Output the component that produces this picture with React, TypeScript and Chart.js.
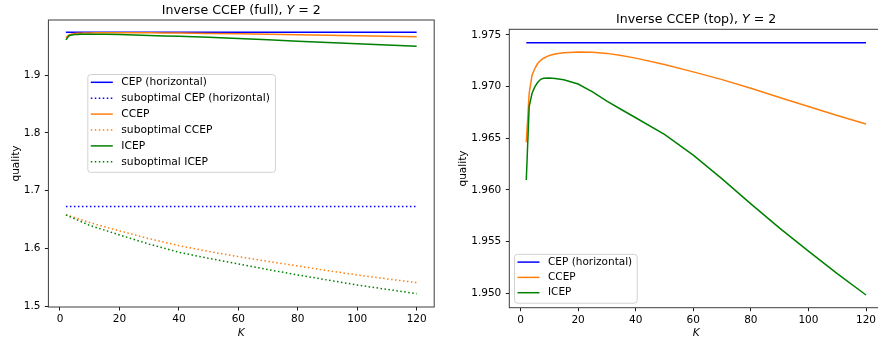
import React, { useEffect, useRef } from "react";
import { Chart, registerables } from "chart.js";

Chart.register(...registerables);

// ---------------- data ----------------
const K_MAIN = [2, 3, 4, 5, 6, 7, 8, 10, 12, 15, 20, 25, 30, 35, 40, 50, 60, 70, 80, 90, 100, 110, 120];
const CCEP_VALUES = [
  1.96462, 1.96936, 1.9711, 1.97178, 1.97226, 1.97255, 1.97275, 1.97302, 1.97316, 1.97327, 1.97335, 1.97333,
  1.97322, 1.97302, 1.97276, 1.97215, 1.97143, 1.97068, 1.96985, 1.96895, 1.96808, 1.9672, 1.96639,
];
const ICEP_VALUES = [
  1.96097, 1.96806, 1.96936, 1.97, 1.97042, 1.97071, 1.97081, 1.97083, 1.97078, 1.97066, 1.97026, 1.9695,
  1.9686, 1.96779, 1.96699, 1.96538, 1.96338, 1.96108, 1.95866, 1.95631, 1.95409, 1.9519, 1.94984,
];
const K_SUB = [2, 5, 10, 15, 20, 30, 40, 50, 60, 70, 80, 90, 100, 110, 120];
const SUB_CCEP_VALUES = [
  1.6578, 1.653, 1.6445, 1.6372, 1.6302, 1.6165, 1.6046, 1.5945, 1.5855, 1.5772, 1.5694, 1.5613, 1.5538, 1.547, 1.5405,
];
const SUB_ICEP_VALUES = [
  1.6578, 1.6508, 1.6395, 1.6314, 1.6231, 1.6072, 1.5931, 1.5825, 1.5728, 1.563, 1.5538, 1.545, 1.5364, 1.5288, 1.5214,
];
const K_RANGE = [2, 120];
const CEP_VALUE = 1.97426;
const SUB_CEP_VALUE = 1.6722;

const X_TICKS = [0, 20, 40, 60, 80, 100, 120];
const Y_TICKS_FULL = [1.5, 1.6, 1.7, 1.8, 1.9];
const Y_TICKS_TOP = [1.95, 1.955, 1.96, 1.965, 1.97, 1.975];

const LABEL_CEP = "CEP (horizontal)";
const LABEL_SUB_CEP = "suboptimal CEP (horizontal)";
const LABEL_CCEP = "CCEP";
const LABEL_SUB_CCEP = "suboptimal CCEP";
const LABEL_ICEP = "ICEP";
const LABEL_SUB_ICEP = "suboptimal ICEP";

const TITLE_FULL = ["Inverse CCEP (full), ", "Y", " = 2"];
const TITLE_TOP = ["Inverse CCEP (top), ", "Y", " = 2"];
const X_LABEL = "K";
const Y_LABEL = "quality";

// ---------------- styling ----------------
const FONT = '"DejaVu Sans", sans-serif';
const FS = 10.5;
const TITLE_FS = 12.6;
const BLUE = "#0000ff";
const ORANGE = "#ff7f0e";
const GREEN = "#008000";

const pts = (ks: number[], vs: number[]) => ks.map((k, i) => ({ x: k, y: vs[i] }));
const flat = (v: number) => K_RANGE.map((k) => ({ x: k, y: v }));

const framePlugin = {
  id: "frame",
  afterDatasetsDraw(chart: any) {
    const { ctx, chartArea: a } = chart;
    ctx.save();
    ctx.strokeStyle = "#3c3c3c";
    ctx.lineWidth = 1;
    ctx.strokeRect(a.left, a.top, a.right - a.left, a.bottom - a.top);
    ctx.restore();
  },
};

const titlePlugin = {
  id: "mixedTitle",
  afterDraw(chart: any, _args: any, o: any) {
    const { ctx, chartArea: a } = chart;
    const parts: string[] = o.parts;
    ctx.save();
    const fontOf = (i: number) => `${i === 1 ? "italic " : ""}${o.size}px ${FONT}`;
    let total = 0;
    const widths = parts.map((p, i) => {
      ctx.font = fontOf(i);
      const w = ctx.measureText(p).width;
      total += w;
      return w;
    });
    let x = (a.left + a.right) / 2 - total / 2;
    const y = a.top - o.gap;
    ctx.fillStyle = "#000";
    ctx.textAlign = "left";
    ctx.textBaseline = "alphabetic";
    parts.forEach((p, i) => {
      ctx.font = fontOf(i);
      ctx.fillText(p, x, y);
      x += widths[i];
    });
    ctx.restore();
  },
};

const legendPlugin = {
  id: "boxLegend",
  afterDraw(chart: any, _args: any, o: any) {
    const { ctx, chartArea: a } = chart;
    const ds = chart.data.datasets;
    ctx.save();
    ctx.font = `${o.fontSize}px ${FONT}`;
    const tw = Math.max(...ds.map((d: any) => ctx.measureText(d.label).width));
    const w = o.padL + o.handle + o.gap + tw + o.padR;
    const h = o.padT + (ds.length - 1) * o.rowH + o.padB;
    const x0 = a.left + o.dx;
    const y0 = o.anchor === "top" ? a.top + o.dy : a.bottom - o.dy - h;
    ctx.beginPath();
    ctx.roundRect(x0 + 0.5, y0 + 0.5, w, h, 3);
    ctx.fillStyle = "rgba(255,255,255,0.8)";
    ctx.fill();
    ctx.strokeStyle = "rgba(204,204,204,0.9)";
    ctx.lineWidth = 1;
    ctx.stroke();
    ds.forEach((d: any, i: number) => {
      const y = y0 + o.padT + i * o.rowH;
      ctx.strokeStyle = d.borderColor;
      ctx.lineWidth = d.borderWidth;
      ctx.setLineDash(d.borderDash || []);
      ctx.beginPath();
      ctx.moveTo(x0 + o.padL, y);
      ctx.lineTo(x0 + o.padL + o.handle, y);
      ctx.stroke();
      ctx.setLineDash([]);
      ctx.fillStyle = "#000";
      ctx.textAlign = "left";
      ctx.textBaseline = "middle";
      ctx.fillText(d.label, x0 + o.padL + o.handle + o.gap, y);
    });
    ctx.restore();
  },
};

type Series = { label: string; data: { x: number; y: number }[]; color: string; dotted: boolean };

type Spec = {
  series: Series[];
  title: string[];
  yTicks: number[];
  yDecimals: number;
  xMin: number;
  xMax: number;
  yMin: number;
  yMax: number;
  padTop: number;
  padRight: number;
  yWidth: number;
  xHeight: number;
  yTitlePad: number;
  titleGap: number;
  legend: any;
};

function buildConfig(p: Spec): any {
  const tickFont = { family: FONT, size: FS };
  return {
    type: "line",
    data: {
      datasets: p.series.map((s, i, arr) => ({
        label: s.label,
        data: s.data,
        borderColor: s.color,
        backgroundColor: s.color,
        borderWidth: 1.5,
        borderDash: s.dotted ? [1.5, 2.5] : [],
        pointRadius: 0,
        pointHoverRadius: 0,
        fill: false,
        tension: 0,
        order: arr.length - i,
      })),
    },
    options: {
      responsive: false,
      animation: false,
      devicePixelRatio: 1,
      events: [],
      layout: { padding: { left: 0, top: p.padTop, right: p.padRight, bottom: 0 } },
      plugins: {
        legend: { display: false },
        tooltip: { enabled: false },
        title: { display: false },
        mixedTitle: { parts: p.title, size: TITLE_FS, gap: p.titleGap },
        boxLegend: p.legend,
      },
      scales: {
        x: {
          type: "linear",
          min: p.xMin,
          max: p.xMax,
          afterBuildTicks: (s: any) => {
            s.ticks = X_TICKS.map((v) => ({ value: v }));
          },
          afterFit: (s: any) => {
            s.height = p.xHeight;
          },
          grid: { drawOnChartArea: false, drawTicks: true, tickLength: 3.5, color: "#000", lineWidth: 0.9 },
          border: { display: false },
          ticks: {
            font: tickFont,
            color: "#000",
            padding: 2.5,
            maxRotation: 0,
            autoSkip: false,
            callback: (v: number) => String(v),
          },
          title: {
            display: true,
            text: X_LABEL,
            color: "#000",
            font: { family: FONT, size: FS, style: "italic", lineHeight: 1.2 },
            padding: { top: 0, bottom: -1 },
          },
        },
        y: {
          type: "linear",
          min: p.yMin,
          max: p.yMax,
          afterBuildTicks: (s: any) => {
            s.ticks = p.yTicks.map((v) => ({ value: v }));
          },
          afterFit: (s: any) => {
            s.width = p.yWidth;
          },
          grid: { drawOnChartArea: false, drawTicks: true, tickLength: 3.5, color: "#000", lineWidth: 0.9 },
          border: { display: false },
          ticks: {
            font: tickFont,
            color: "#000",
            padding: 4.5,
            autoSkip: false,
            callback: (v: number) => Number(v).toFixed(p.yDecimals),
          },
          title: {
            display: true,
            text: Y_LABEL,
            color: "#000",
            font: { family: FONT, size: FS, lineHeight: 1.2 },
            padding: { top: p.yTitlePad, bottom: 0 },
          },
        },
      },
    },
    plugins: [framePlugin, titlePlugin, legendPlugin],
  };
}

const FULL_SPEC: Spec = {
  series: [
    { label: LABEL_CEP, data: flat(CEP_VALUE), color: BLUE, dotted: false },
    { label: LABEL_SUB_CEP, data: flat(SUB_CEP_VALUE), color: BLUE, dotted: true },
    { label: LABEL_CCEP, data: pts(K_MAIN, CCEP_VALUES), color: ORANGE, dotted: false },
    { label: LABEL_SUB_CCEP, data: pts(K_SUB, SUB_CCEP_VALUES), color: ORANGE, dotted: true },
    { label: LABEL_ICEP, data: pts(K_MAIN, ICEP_VALUES), color: GREEN, dotted: false },
    { label: LABEL_SUB_ICEP, data: pts(K_SUB, SUB_ICEP_VALUES), color: GREEN, dotted: true },
  ],
  title: TITLE_FULL,
  yTicks: Y_TICKS_FULL,
  yDecimals: 1,
  xMin: -3.9,
  xMax: 125.9,
  yMin: 1.49827,
  yMax: 1.99532,
  padTop: 20,
  padRight: 5.8,
  yWidth: 48.4,
  xHeight: 32,
  yTitlePad: 9.7,
  titleGap: 6.5,
  legend: {
    anchor: "top",
    dx: 38.9,
    dy: 54,
    fontSize: 10.7,
    padL: 3.5,
    handle: 22,
    gap: 8.5,
    padR: 5,
    padT: 8.3,
    padB: 10,
    rowH: 15.9,
  },
};

const TOP_SPEC: Spec = {
  series: [
    { label: LABEL_CEP, data: flat(CEP_VALUE), color: BLUE, dotted: false },
    { label: LABEL_CCEP, data: pts(K_MAIN, CCEP_VALUES), color: ORANGE, dotted: false },
    { label: LABEL_ICEP, data: pts(K_MAIN, ICEP_VALUES), color: GREEN, dotted: false },
  ],
  title: TITLE_TOP,
  yTicks: Y_TICKS_TOP,
  yDecimals: 3,
  xMin: -3.9,
  xMax: 125.9,
  yMin: 1.94861,
  yMax: 1.97555,
  padTop: 29.3,
  padRight: 17,
  yWidth: 69.3,
  xHeight: 31.3,
  yTitlePad: 17,
  titleGap: 6.5,
  legend: {
    anchor: "bottom",
    dx: 4.7,
    dy: 5,
    fontSize: 10.5,
    padL: 3.5,
    handle: 22,
    gap: 8.5,
    padR: 4.5,
    padT: 8.3,
    padB: 10,
    rowH: 15.3,
  },
};

function Panel({ spec, left, width }: { spec: Spec; left: number; width: number }) {
  const ref = useRef<HTMLCanvasElement>(null);
  useEffect(() => {
    const chart = new Chart(ref.current as HTMLCanvasElement, buildConfig(spec));
    return () => chart.destroy();
  }, [spec]);
  return (
    <canvas
      ref={ref}
      width={width}
      height={339}
      style={{ position: "absolute", left, top: 0, width, height: 339, display: "block" }}
    />
  );
}

export default function App() {
  return (
    <div
      style={{
        position: "fixed",
        left: 0,
        top: 0,
        width: 878,
        height: 339,
        overflow: "hidden",
        background: "#fff",
      }}
    >
      <Panel spec={FULL_SPEC} left={0} width={440} />
      <Panel spec={TOP_SPEC} left={440} width={460} />
    </div>
  );
}
